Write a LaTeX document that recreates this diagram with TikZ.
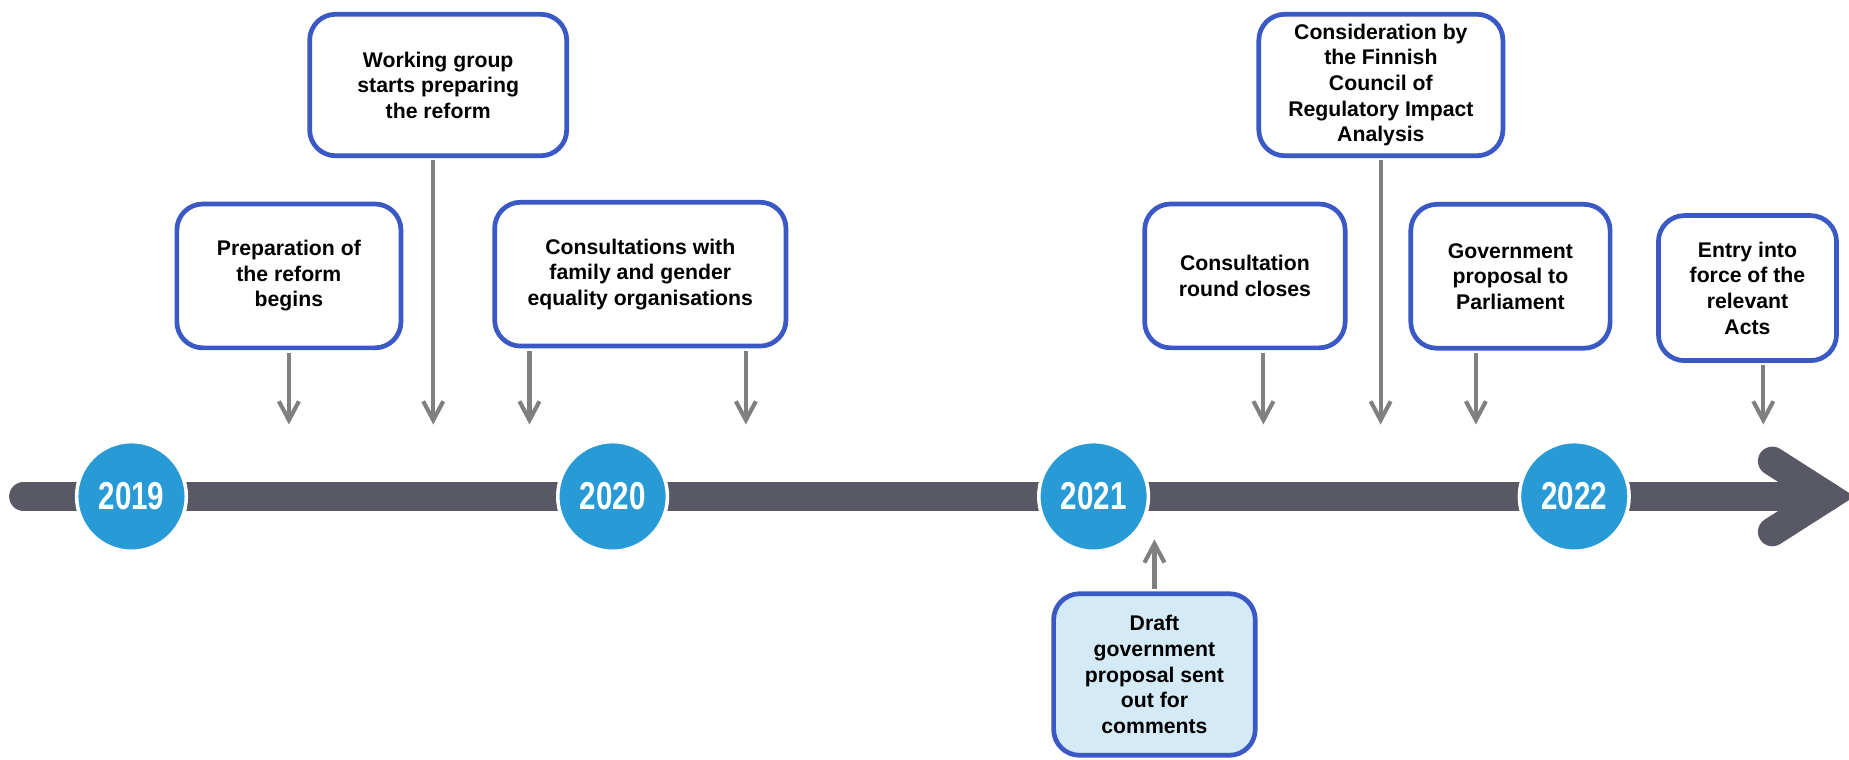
\documentclass[tikz,border=0pt]{standalone}
\usepackage{fontspec}
\setmainfont{Liberation Sans}
\newfontfamily\yearfont[FakeStretch=0.76]{Liberation Sans Bold}
\usetikzlibrary{arrows.meta}
\definecolor{boxblue}{RGB}{59,89,196}
\definecolor{draftfill}{RGB}{212,234,247}
\definecolor{yearblue}{RGB}{40,155,215}
\definecolor{linegray}{RGB}{89,89,101}
\definecolor{pointer}{RGB}{128,128,128}
\tikzset{
event/.style={draw=boxblue, line width=4pt, rounded corners=22pt, fill=white, align=center, inner sep=0pt, font=\bfseries\fontsize{18}{21.7}\selectfont}, % the text boxes
year/.style={circle, fill=yearblue, draw=white, line width=3pt, minimum size=93pt, inner sep=0pt, text=white, font=\yearfont\fontsize{33}{33}\selectfont}, % the year discs on the line
pin/.style={draw=pointer, line width=3.5pt, shorten <=2pt, -{Straight Barb[length=16pt,width=17pt]}}, % grey arrows from a box to the line
timeline/.style={draw=linegray, line width=24.5pt}, % the thick line and its head
}

\begin{document}
\begin{tikzpicture}[x=1pt, y=-1pt]
                \useasboundingbox (0,0) rectangle (1568,644);

                \coordinate (tail) at (20,421);
                \coordinate (head) at (1550,421);
                \draw[timeline, line cap=round] (tail) -- (head);
                \draw[timeline, line cap=round, line join=miter] ([shift={(-47,-30)}]head) -- (head) -- ([shift={(-47,30)}]head);

                \foreach \yr/\xx in {2019/111.5, 2020/519.5, 2021/927.4, 2022/1335}
                    \node[year] (y\yr) at (\xx,421) {\yr};

                \node[event, minimum width=190pt, minimum height=122pt] (prep) at (245,234) {Preparation of\\the reform\\begins};
                \node[event, minimum width=218pt, minimum height=120pt] (work) at (371.6,72.1) {Working group\\starts preparing\\the reform};
                \node[event, minimum width=247pt, minimum height=122pt] (consult) at (543,232.5) {Consultations with\\family and gender\\equality organisations};
                \node[event, minimum width=170pt, minimum height=122pt] (closes) at (1055.7,234) {Consultation\\round closes};
                \node[event, minimum width=207pt, minimum height=120pt] (council) at (1171,72.1) {Consideration by\\the Finnish\\Council of\\Regulatory Impact\\Analysis};
                \node[event, minimum width=169pt, minimum height=122pt] (govprop) at (1280.9,234.3) {Government\\proposal to\\Parliament};
                \node[event, minimum width=151pt, minimum height=123pt] (entry) at (1481.9,244.3) {Entry into\\force of the\\relevant\\Acts};
                \node[event, fill=draftfill, minimum width=171pt, minimum height=137pt] (draft) at (979,572) {Draft\\government\\proposal sent\\out for\\comments};

                \coordinate (t1) at (245,360);
                \coordinate (t2) at (367.4,360);
                \coordinate (t3) at (449,360);
                \coordinate (t4) at (632.5,360);
                \coordinate (t5) at (1071.4,360);
                \coordinate (t6) at (1170.8,360);
                \coordinate (t7) at (1251.6,360);
                \coordinate (t8) at (1495.3,360);
                \coordinate (t9) at (979,457.4);

                \draw[pin] (t1 |- prep.south) -- (t1);
                \draw[pin] (t2 |- work.south) -- (t2);
                \draw[pin] (t3 |- consult.south) -- (t3);
                \draw[pin] (t4 |- consult.south) -- (t4);
                \draw[pin] (t5 |- closes.south) -- (t5);
                \draw[pin] (t6 |- council.south) -- (t6);
                \draw[pin] (t7 |- govprop.south) -- (t7);
                \draw[pin] (t8 |- entry.south) -- (t8);
                \draw[pin] (t9 |- draft.north) -- (t9);
\end{tikzpicture}
\end{document}
